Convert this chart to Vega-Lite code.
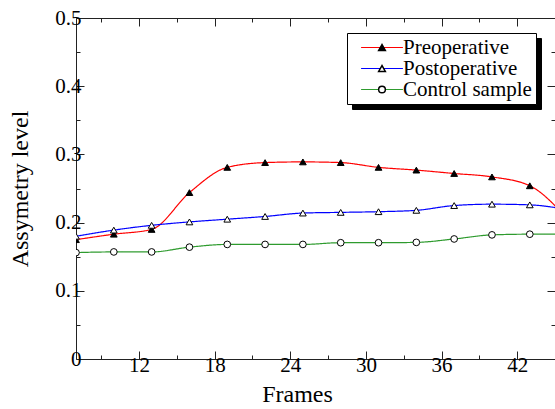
{
  "$schema": "https://vega.github.io/schema/vega-lite/v6.json",
  "width": 479,
  "height": 341,
  "autosize": {"type": "none"},
  "padding": {"left": 76, "top": 18, "right": 0, "bottom": 50},
  "title": {"text": "SCIENCE AND TECHNOLOGY", "anchor": "start", "frame": "group", "font": "DejaVu Sans", "fontWeight": "bold", "fontSize": 46, "color": "#e4e4e4", "baseline": "alphabetic", "offset": 2, "dx": -58},
  "data": {"values": [
    {"f": 7, "series": "Preoperative", "v": 0.175},
    {"f": 10, "series": "Preoperative", "v": 0.183},
    {"f": 13, "series": "Preoperative", "v": 0.190},
    {"f": 16, "series": "Preoperative", "v": 0.244},
    {"f": 19, "series": "Preoperative", "v": 0.281},
    {"f": 22, "series": "Preoperative", "v": 0.288},
    {"f": 25, "series": "Preoperative", "v": 0.289},
    {"f": 28, "series": "Preoperative", "v": 0.288},
    {"f": 31, "series": "Preoperative", "v": 0.281},
    {"f": 34, "series": "Preoperative", "v": 0.277},
    {"f": 37, "series": "Preoperative", "v": 0.272},
    {"f": 40, "series": "Preoperative", "v": 0.267},
    {"f": 43, "series": "Preoperative", "v": 0.254},
    {"f": 46, "series": "Preoperative", "v": 0.205},
    {"f": 7, "series": "Postoperative", "v": 0.180},
    {"f": 10, "series": "Postoperative", "v": 0.189},
    {"f": 13, "series": "Postoperative", "v": 0.196},
    {"f": 16, "series": "Postoperative", "v": 0.201},
    {"f": 19, "series": "Postoperative", "v": 0.205},
    {"f": 22, "series": "Postoperative", "v": 0.209},
    {"f": 25, "series": "Postoperative", "v": 0.214},
    {"f": 28, "series": "Postoperative", "v": 0.215},
    {"f": 31, "series": "Postoperative", "v": 0.216},
    {"f": 34, "series": "Postoperative", "v": 0.218},
    {"f": 37, "series": "Postoperative", "v": 0.225},
    {"f": 40, "series": "Postoperative", "v": 0.227},
    {"f": 43, "series": "Postoperative", "v": 0.226},
    {"f": 46, "series": "Postoperative", "v": 0.219},
    {"f": 7, "series": "Control sample", "v": 0.156},
    {"f": 10, "series": "Control sample", "v": 0.157},
    {"f": 13, "series": "Control sample", "v": 0.157},
    {"f": 16, "series": "Control sample", "v": 0.164},
    {"f": 19, "series": "Control sample", "v": 0.168},
    {"f": 22, "series": "Control sample", "v": 0.168},
    {"f": 25, "series": "Control sample", "v": 0.168},
    {"f": 28, "series": "Control sample", "v": 0.1705},
    {"f": 31, "series": "Control sample", "v": 0.1705},
    {"f": 34, "series": "Control sample", "v": 0.171},
    {"f": 37, "series": "Control sample", "v": 0.176},
    {"f": 40, "series": "Control sample", "v": 0.182},
    {"f": 43, "series": "Control sample", "v": 0.183},
    {"f": 46, "series": "Control sample", "v": 0.183}
  ]},
  "layer": [
    {
      "mark": {"type": "line", "clip": true, "strokeWidth": 1.2, "interpolate": "monotone"},
      "encoding": {
        "x": {"field": "f", "type": "quantitative", "scale": {"domain": [7, 45], "nice": false, "zero": false},
          "axis": {"orient": "bottom", "values": [12, 18, 24, 30, 36, 42], "format": "d", "tickSize": -8, "labelPadding": 3, "title": "Frames", "titleX": 221, "titlePadding": 7, "domain": false}},
        "y": {"field": "v", "type": "quantitative", "scale": {"domain": [0, 0.5], "nice": false},
          "axis": {"orient": "left", "values": [0, 0.1, 0.2, 0.3, 0.4, 0.5], "format": ".1~f", "tickSize": -8, "labelPadding": 3, "title": "Assymetry level", "titlePadding": 22, "domain": false}},
        "stroke": {"field": "series", "type": "nominal",
          "scale": {"domain": ["Preoperative", "Postoperative", "Control sample"], "range": ["#ff0000", "#0000ff", "#2e9b2e"]},
          "legend": {"title": null, "orient": "none", "legendX": 271, "legendY": 15, "padding": 4, "fillColor": "white", "strokeColor": "black", "symbolType": "M-5,0H5", "symbolSize": 70, "symbolStrokeWidth": 1.2, "symbolOffset": 20.5, "labelOffset": 10.5, "rowPadding": -1, "labelFont": "Liberation Serif", "labelFontSize": 21, "labelColor": "black", "zindex": 1}},
        "strokeDash": {"field": "series", "type": "nominal",
          "scale": {"domain": ["Control sample", "Postoperative", "Preoperative"], "range": [[1, 0], [1, 0], [1, 0]]},
          "legend": {"title": null, "orient": "none", "legendX": 276, "legendY": 20, "padding": 4, "fillColor": "black", "strokeColor": "black", "symbolType": "M-5,0H5", "symbolSize": 70, "symbolStrokeWidth": 1.2, "symbolOpacity": 0, "symbolOffset": 20.5, "labelOffset": 10.5, "rowPadding": -1, "labelFont": "Liberation Serif", "labelFontSize": 21, "labelOpacity": 0, "zindex": 0}}
      }
    },
    {
      "mark": {"type": "point", "filled": true, "stroke": "black", "strokeWidth": 1, "size": 45, "opacity": 1, "clip": true},
      "encoding": {
        "x": {"field": "f", "type": "quantitative", "axis": {"orient": "top", "values": [12, 18, 24, 30, 36, 42], "tickSize": -8, "labels": false, "title": null, "domain": false}},
        "y": {"field": "v", "type": "quantitative", "axis": {"orient": "right", "values": [0, 0.1, 0.2, 0.3, 0.4, 0.5], "tickSize": -8, "labels": false, "title": null, "domain": false}},
        "shape": {"field": "series", "type": "nominal", "sort": null, "scale": {"range": ["triangle-up", "triangle-up", "circle"]},
          "legend": {"title": null, "orient": "none", "legendX": 271, "legendY": 15, "padding": 4, "symbolSize": 45, "symbolOffset": 20.5, "labelOffset": 10.5, "rowPadding": -1, "labelFont": "Liberation Serif", "labelFontSize": 21, "labelOpacity": 0, "zindex": 2,
            "encode": {"symbols": {"update": {"stroke": {"value": "black"}, "strokeWidth": {"value": 1}, "opacity": {"value": 1}}}}}},
        "fill": {"field": "series", "type": "nominal", "sort": null, "scale": {"range": ["black", "white", "white"]}, "legend": null}
      }
    },
    {
      "mark": {"type": "point", "opacity": 0},
      "encoding": {
        "x": {"field": "f", "type": "quantitative", "axis": {"orient": "bottom", "values": [9, 15, 21, 27, 33, 39], "tickSize": -4, "labels": false, "title": null, "domain": false}},
        "y": {"field": "v", "type": "quantitative", "axis": {"orient": "left", "values": [0.05, 0.15, 0.25, 0.35, 0.45], "tickSize": -4, "labels": false, "title": null, "domain": false}}
      }
    },
    {
      "mark": {"type": "point", "opacity": 0},
      "encoding": {
        "x": {"field": "f", "type": "quantitative", "axis": {"orient": "top", "values": [9, 15, 21, 27, 33, 39], "tickSize": -4, "labels": false, "title": null, "domain": false}},
        "y": {"field": "v", "type": "quantitative", "axis": {"orient": "right", "values": [0.05, 0.15, 0.25, 0.35, 0.45], "tickSize": -4, "labels": false, "title": null, "domain": false}}
      }
    }
  ],
  "resolve": {"axis": {"x": "independent", "y": "independent"}},
  "config": {
    "view": {"stroke": "#222222", "strokeWidth": 1},
    "axis": {"grid": false, "tickColor": "#222222", "tickWidth": 1, "labelFlush": false, "labelFont": "Liberation Serif", "labelFontSize": 21, "labelColor": "black", "titleFont": "Liberation Serif", "titleFontSize": 24, "titleFontWeight": "normal", "titleColor": "black"}
  }
}
